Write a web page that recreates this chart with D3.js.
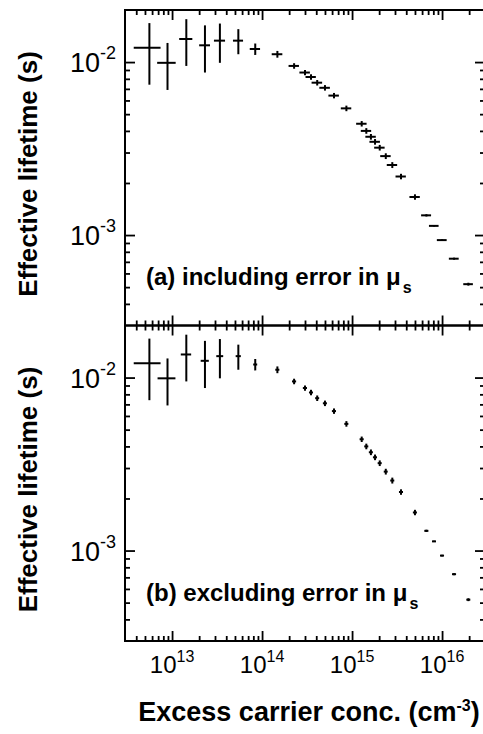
<!DOCTYPE html>
<html lang="en">
<head>
<meta charset="UTF-8">
<title>Effective lifetime vs excess carrier concentration</title>
<script src="https://d3js.org/d3.v7.min.js"></script>
<style>
  body { margin: 0; background: #fff; }
  svg { display: block; background: #fff; }
  text { font-family: Arial, "Liberation Sans", Helvetica, sans-serif; fill: #000; }
  .tick line { stroke: #000; stroke-width: 1.8px; }
</style>
</head>
<body>
<svg width="483" height="734"></svg>
<script>
// excess carrier concentration (cm^-3)
const conc = [5.6e12, 8.9e12, 1.44e13, 2.32e13, 3.4e13, 5.45e13, 8.4e13, 1.48e14, 2.27e14, 3.0e14,
  3.5e14, 4.1e14, 5.0e14, 6.3e14, 8.65e14, 1.28e15, 1.44e15, 1.62e15, 1.8e15, 2.03e15,
  2.37e15, 2.8e15, 3.5e15, 5.0e15, 6.7e15, 8.15e15, 1.0e16, 1.36e16, 1.96e16];
// effective lifetime (s)
const lifetime = [0.0121, 0.0099, 0.0136, 0.0125, 0.0133, 0.0133, 0.0119, 0.0111, 0.0095, 0.0087,
  0.0082, 0.0076, 0.0071, 0.0064, 0.0054, 0.0044, 0.0040, 0.0037, 0.00346, 0.0032,
  0.00286, 0.00254, 0.00218, 0.00166, 0.0013, 0.00113, 0.000935, 0.00073, 0.00052];
// error in lifetime (same in both panels)
const lifetimeErr = [0.0047, 0.0030, 0.0041, 0.0038, 0.0034, 0.0022, 0.0009, 0.0005, 0.00035, 0.0003,
  0.0003, 0.00028, 0.00026, 0.00023, 0.0002, 0.00016, 0.00015, 0.00014, 0.00013, 0.00012,
  0.00011, 0.0001, 0.00008, 0.00006, 0.00002, 0.00001, 0.00001, 0.00001, 0.00001];
// error in concentration, (a) including error in mu_s
const concErrA = [1.85e12, 2.07e12, 2.4e12, 3.2e12, 4.8e12, 7e12, 1.1e13, 2.0e13, 3.0e13, 4.0e13,
  4.6e13, 5.5e13, 6.7e13, 8.4e13, 1.15e14, 1.7e14, 1.9e14, 2.15e14, 2.4e14, 2.7e14,
  3.15e14, 3.7e14, 4.6e14, 6.6e14, 8.5e14, 1.0e15, 1.25e15, 1.7e15, 2.4e15];
// error in concentration, (b) excluding error in mu_s
const concErrB = [1.85e12, 2.0e12, 1.9e12, 2.4e12, 3.0e12, 3.6e12, 4.3e12, 7.7e12, 1.2e13, 1.6e13,
  1.8e13, 2.1e13, 2.6e13, 3.3e13, 4.5e13, 6.7e13, 7.5e13, 8.4e13, 9.4e13, 1.05e14,
  1.2e14, 1.45e14, 1.8e14, 2.6e14, 3.5e14, 4.2e14, 5.2e14, 7.1e14, 1.0e15];

const xDomain = [3e12, 3e16];
const yDomain = [3e-4, 2e-2];
const xMajors = [1e13, 1e14, 1e15, 1e16];
const xMajorExp = ["13", "14", "15", "16"];
const yMajors = [1e-3, 1e-2];
const yMajorExp = ["-3", "-2"];
const panelLabels = ["(a) including error in ", "(b) excluding error in "];

const svg = d3.select("svg");
const left = 125, right = 485;
const panelH = 315.5;
const tops = [10, 10 + panelH];

const x = d3.scaleLog().domain(xDomain).range([left, right]);

// minor ticks of a log domain (2..9 times each decade)
const minorTicks = (dom) => {
  const out = [];
  const lo = Math.floor(Math.log10(dom[0])), hi = Math.ceil(Math.log10(dom[1]));
  for (let e = lo; e <= hi; e++) {
    for (let k = 2; k <= 9; k++) {
      const v = k * Math.pow(10, e);
      if (v >= dom[0] * 1.0001 && v <= dom[1] / 1.0001) out.push(v);
    }
  }
  return out;
};

const addAxis = (g, axisFn, scale, tr, values, size) => {
  g.append("g")
    .attr("transform", tr)
    .call(axisFn(scale).tickValues(values).tickSizeInner(-size).tickSizeOuter(0).tickFormat(""))
    .call(s => s.select(".domain").remove());
};

const drawPanel = (i, concErr) => {
  const top = tops[i], bottom = top + panelH;
  const y = d3.scaleLog().domain(yDomain).range([bottom, top]);
  const g = svg.append("g");

  const xMin = minorTicks(xDomain), yMin = minorTicks(yDomain);
  [[d3.axisBottom, `translate(0,${bottom})`], [d3.axisTop, `translate(0,${top})`]].forEach(([fn, tr]) => {
    addAxis(g, fn, x, tr, xMajors, 10);
    addAxis(g, fn, x, tr, xMin, 5);
  });
  [[d3.axisLeft, `translate(${left},0)`], [d3.axisRight, `translate(${right},0)`]].forEach(([fn, tr]) => {
    addAxis(g, fn, y, tr, yMajors, 10);
    addAxis(g, fn, y, tr, yMin, 5);
  });

  g.append("rect")
    .attr("x", left).attr("y", top)
    .attr("width", right - left).attr("height", panelH)
    .attr("fill", "none").attr("stroke", "#000").attr("stroke-width", 2);

  // y tick labels
  yMajors.forEach((v, j) => {
    const t = g.append("text")
      .attr("x", left - 9).attr("y", y(v) + 10)
      .attr("text-anchor", "end")
      .style("font-size", "27px");
    t.append("tspan").text("10");
    t.append("tspan").attr("dy", -13).style("font-size", "18px").text(yMajorExp[j]);
  });

  // y title
  g.append("text")
    .attr("transform", `translate(37,${top + 164}) rotate(-90)`)
    .attr("text-anchor", "middle")
    .style("font-size", "26px").style("font-weight", "bold")
    .text("Effective lifetime (s)");

  // panel label
  const lab = g.append("text")
    .attr("x", 146).attr("y", top + 275)
    .style("font-size", "24px").style("font-weight", "bold");
  lab.append("tspan").text(panelLabels[i]);
  lab.append("tspan").text("\u03bc");
  lab.append("tspan").attr("dy", 8).attr("dx", 2).style("font-size", "16px").text("s");

  // error bars
  const pts = conc.map((n, k) => ({ n, t: lifetime[k], en: concErr[k], et: lifetimeErr[k] }));
  const eb = g.append("g").attr("stroke", "#000").attr("stroke-width", 2);
  eb.selectAll("line.h").data(pts).join("line").attr("class", "h")
    .attr("x1", d => x(d.n - d.en)).attr("x2", d => x(d.n + d.en))
    .attr("y1", d => y(d.t)).attr("y2", d => y(d.t));
  eb.selectAll("line.v").data(pts).join("line").attr("class", "v")
    .attr("x1", d => x(d.n)).attr("x2", d => x(d.n))
    .attr("y1", d => y(d.t - d.et)).attr("y2", d => y(d.t + d.et));
};

drawPanel(0, concErrA);
drawPanel(1, concErrB);

// x tick labels
const bottomY = tops[1] + panelH;
xMajors.forEach((v, j) => {
  const t = svg.append("text")
    .attr("x", x(v)).attr("y", bottomY + 32)
    .attr("text-anchor", "middle")
    .style("font-size", "24px");
  t.append("tspan").text("10");
  t.append("tspan").attr("dy", -11).style("font-size", "16px").text(xMajorExp[j]);
});

// x title
const xt = svg.append("text")
  .attr("x", 309).attr("y", 721)
  .attr("text-anchor", "middle")
  .style("font-size", "27px").style("font-weight", "bold");
xt.append("tspan").text("Excess carrier conc. (cm");
xt.append("tspan").attr("dy", -10).style("font-size", "16px").text("-3");
xt.append("tspan").attr("dy", 10).text(")");
</script>
</body>
</html>
